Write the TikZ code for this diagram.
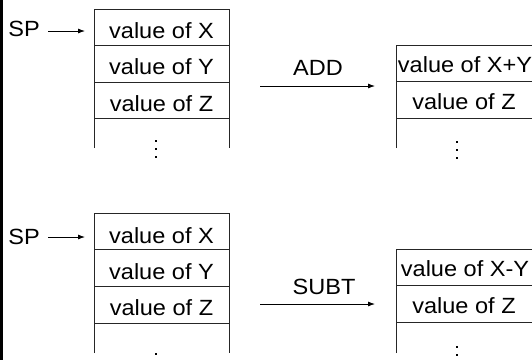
\documentclass[tikz,border=0pt]{standalone}
\usepackage{fontspec}
\setmainfont{Liberation Sans}
\usepackage{graphicx}
\usetikzlibrary{arrows.meta}
\newcommand{\wide}[1]{\scalebox{1.07}[1]{#1}}
\begin{document}
\begin{tikzpicture}[x=1pt,y=-1pt,
  lbl/.style={inner sep=0pt, font=\fontsize{22}{24}\selectfont, anchor=center},
  frame/.style={line width=0.9pt, draw=black!85},
  arr/.style={line width=0.8pt, -{Latex[length=7pt,width=5pt]}},
  dotm/.style={fill=black, inner sep=0pt, minimum size=2.4pt, rectangle}]
\useasboundingbox (0,0) rectangle (532,360);
\fill (0,0) rectangle (2.5,360);
% ---------- top section ----------
\draw[frame] (94,148) -- (94,9) -- (229,9) -- (229,148);
\draw[frame] (94,45.5) -- (229,45.5) (94,82) -- (229,82) (94,118.5) -- (229,118.5);
\node[lbl] (tx) at (161.5,30.5) {\wide{value of X}};
\node[lbl] (ty) at (161.5,67) {\wide{value of Y}};
\node[lbl] (tz) at (161.5,103.5) {\wide{value of Z}};
\node[dotm] (td1) at (156,141) {};
\node[dotm] (td2) at (156,149) {};
\node[dotm] (td3) at (156,157) {};
\node[lbl] (sp1) at (24,28.5) {\wide{SP}};
\coordinate (sp1s) at (48,31);
\coordinate (sp1e) at (85,31);
\draw[arr] (sp1s) -- (sp1e);
\node[lbl] (add) at (318,68) {\wide{ADD}};
\coordinate (adds) at (260,86);
\coordinate (adde) at (375,86);
\draw[arr] (adds) -- (adde);
\draw[frame] (396,148) -- (396,45) -- (532,45) -- (532,148);
\draw[frame] (396,81.5) -- (532,81.5) (396,118) -- (532,118);
\node[lbl] (rxy) at (465,65) {\wide{value of X+Y}};
\node[lbl] (rz) at (464,101.5) {\wide{value of Z}};
\node[dotm] (rd1) at (457,142) {};
\node[dotm] (rd2) at (457,150) {};
\node[dotm] (rd3) at (457,158) {};
% ---------- bottom section ----------
\draw[frame] (94,353) -- (94,213) -- (229,213) -- (229,353);
\draw[frame] (94,249.5) -- (229,249.5) (94,286.5) -- (229,286.5) (94,323) -- (229,323);
\node[lbl] (bx) at (161.5,235.5) {\wide{value of X}};
\node[lbl] (by) at (161.5,271.5) {\wide{value of Y}};
\node[lbl] (bz) at (161.5,308) {\wide{value of Z}};
\node[dotm] (bd1) at (156,354) {};
\node[dotm] (bd2) at (156,362) {};
\node[lbl] (sp2) at (24,236.5) {\wide{SP}};
\coordinate (sp2s) at (48,237);
\coordinate (sp2e) at (85,237);
\draw[arr] (sp2s) -- (sp2e);
\node[lbl] (subt) at (324,287) {\wide{SUBT}};
\coordinate (subs) at (260,304);
\coordinate (sube) at (375,304);
\draw[arr] (subs) -- (sube);
\draw[frame] (396,353) -- (396,249) -- (532,249) -- (532,353);
\draw[frame] (396,285.5) -- (532,285.5) (396,322) -- (532,322);
\node[lbl] (rxmy) at (465,269) {\wide{value of X-Y}};
\node[lbl] (rz2) at (464,305.5) {\wide{value of Z}};
\node[dotm] (rbd1) at (457,347) {};
\node[dotm] (rbd2) at (457,355) {};
\node[dotm] (rbd3) at (457,363) {};
\end{tikzpicture}
\end{document}
